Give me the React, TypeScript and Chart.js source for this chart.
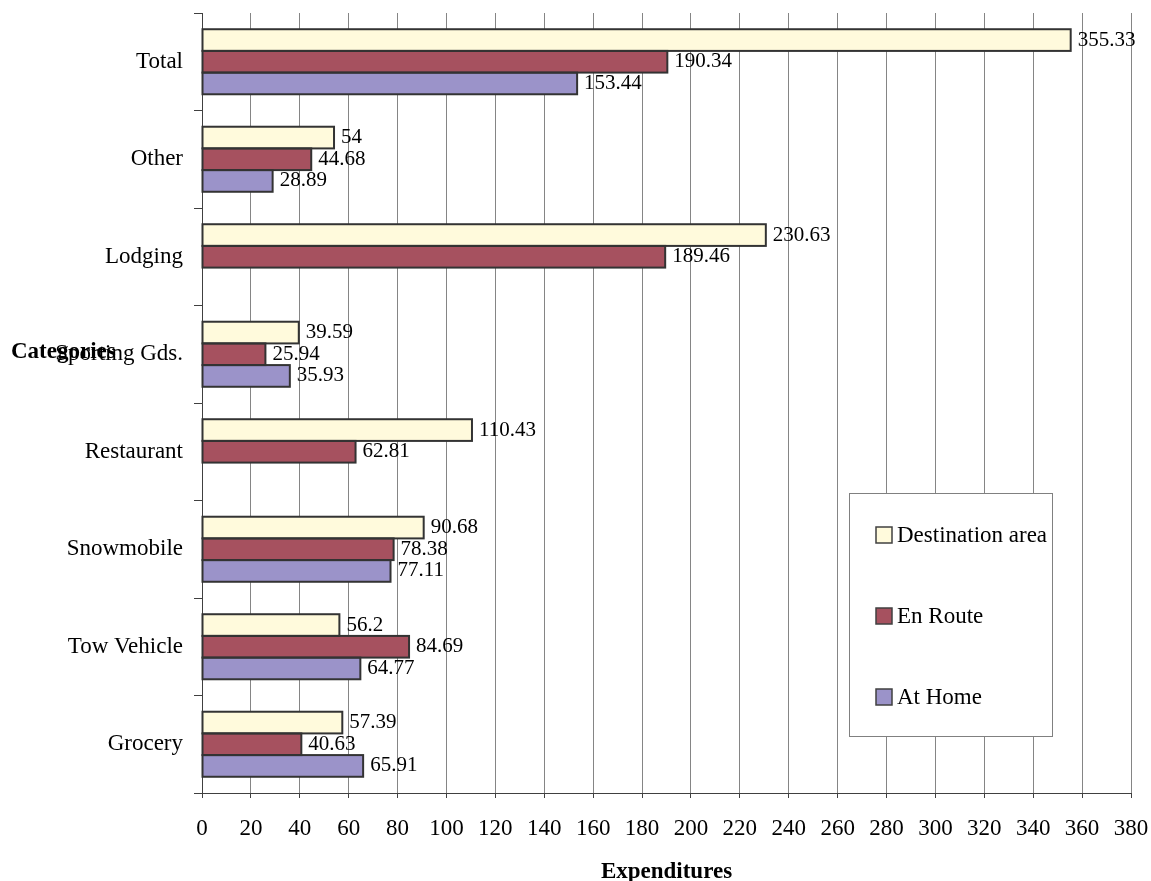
import React, { useEffect, useRef } from 'react';
import { Chart, registerables } from 'chart.js';

Chart.register(...registerables);

// Spending categories, listed top to bottom
const categories = ['Total', 'Other', 'Lodging', 'Sporting Gds.', 'Restaurant', 'Snowmobile', 'Tow Vehicle', 'Grocery'];

// Expenditures per series (null = no value reported)
const destinationArea = [355.33, 54, 230.63, 39.59, 110.43, 90.68, 56.2, 57.39];
const enRoute = [190.34, 44.68, 189.46, 25.94, 62.81, 78.38, 84.69, 40.63];
const atHome: (number | null)[] = [153.44, 28.89, null, 35.93, null, 77.11, 64.77, 65.91];

const seriesNames = ['Destination area', 'En Route', 'At Home'];
const seriesColors = ['#FFFADC', '#A6515F', '#9B93C9'];

// Value axis range
const xMin = 0;
const xMax = 380;
const xStep = 20;

const FONT = "'Liberation Serif', 'Times New Roman', serif";

// Outlines every bar with a 2px line centred on its edges (neighbours share one line),
// then writes each bar's value just past its end
const barOutlinesAndValues = {
  id: 'barOutlinesAndValues',
  afterDatasetsDraw(chart: any) {
    const ctx = chart.ctx;
    ctx.save();
    ctx.strokeStyle = '#333333';
    ctx.lineWidth = 2;
    chart.data.datasets.forEach((ds: any, di: number) => {
      const meta = chart.getDatasetMeta(di);
      meta.data.forEach((bar: any, i: number) => {
        const v = ds.data[i];
        if (v === null || v === undefined) return;
        const { x, y, base, height } = bar.getProps(['x', 'y', 'base', 'height'], true);
        ctx.strokeRect(base, y - height / 2, x - base, height);
      });
    });

    ctx.font = `21px ${FONT}`;
    ctx.fillStyle = '#000';
    ctx.textAlign = 'left';
    ctx.textBaseline = 'middle';
    chart.data.datasets.forEach((ds: any, di: number) => {
      const meta = chart.getDatasetMeta(di);
      meta.data.forEach((bar: any, i: number) => {
        const v = ds.data[i];
        if (v === null || v === undefined) return;
        ctx.fillText(String(v), bar.x + 7, bar.y);
      });
    });
    ctx.restore();
  },
};

// Boxed legend in the lower right and horizontal axis titles
const decorations = {
  id: 'decorations',
  afterDraw(chart: any) {
    const ctx = chart.ctx;
    ctx.save();

    // legend box
    const bx = 849.5, by = 493.5, bw = 203, bh = 243;
    ctx.fillStyle = '#fff';
    ctx.fillRect(bx, by, bw, bh);
    ctx.strokeStyle = '#808080';
    ctx.lineWidth = 1;
    ctx.strokeRect(bx, by, bw, bh);

    ctx.save();
    ctx.beginPath();
    ctx.rect(bx, by, bw + 1, bh);
    ctx.clip();
    ctx.font = `23px ${FONT}`;
    ctx.textAlign = 'left';
    ctx.textBaseline = 'middle';
    const rowY = [535, 616, 697];
    seriesNames.forEach((name, i) => {
      const y = rowY[i];
      ctx.fillStyle = seriesColors[i];
      ctx.fillRect(876, y - 8, 16, 16);
      ctx.strokeStyle = '#404040';
      ctx.lineWidth = 1.5;
      ctx.strokeRect(876, y - 8, 16, 16);
      ctx.fillStyle = '#000';
      ctx.fillText(name, 897, y + 1);
    });
    ctx.restore();

    // axis titles
    ctx.fillStyle = '#000';
    ctx.font = `bold 23px ${FONT}`;
    ctx.textBaseline = 'alphabetic';
    ctx.textAlign = 'center';
    const area = chart.chartArea;
    ctx.fillText('Expenditures', (area.left + area.right) / 2, 878);
    ctx.textAlign = 'left';
    ctx.fillText('Categories', 11, 358);

    ctx.restore();
  },
};

export default function App() {
  const canvasRef = useRef<HTMLCanvasElement | null>(null);

  useEffect(() => {
    if (!canvasRef.current) return;
    Chart.defaults.font.family = FONT;
    const chart = new Chart(canvasRef.current, {
      type: 'bar',
      data: {
        labels: categories,
        datasets: [
          { label: seriesNames[0], data: destinationArea, backgroundColor: seriesColors[0] },
          { label: seriesNames[1], data: enRoute, backgroundColor: seriesColors[1] },
          { label: seriesNames[2], data: atHome, backgroundColor: seriesColors[2] },
        ].map((d) => ({
          ...d,
          borderWidth: 0,
          categoryPercentage: 0.667,
          barPercentage: 1,
        })),
      },
      options: {
        indexAxis: 'y',
        responsive: false,
        animation: false,
        devicePixelRatio: 1,
        layout: { padding: { top: 13, right: 20, left: 0, bottom: 0 } },
        plugins: {
          legend: { display: false },
          tooltip: { enabled: false },
          title: { display: false },
        },
        scales: {
          x: {
            type: 'linear',
            min: xMin,
            max: xMax,
            ticks: {
              stepSize: xStep,
              color: '#000',
              font: { size: 23, family: FONT },
              padding: 17,
              maxRotation: 0,
              autoSkip: false,
            },
            grid: { color: '#858585', tickColor: '#404040', tickLength: 5 },
            border: { color: '#404040' },
            afterFit(scale: any) {
              scale.height = 88;
              scale.paddingLeft = 0;
              scale.paddingRight = 0;
            },
          },
          y: {
            type: 'category',
            ticks: {
              color: '#000',
              font: { size: 23, family: FONT },
              padding: 11,
              autoSkip: false,
            },
            grid: { offset: true, drawOnChartArea: false, tickLength: 8, color: '#404040' },
            border: { color: '#404040' },
            afterFit(scale: any) {
              scale.width = 202;
              scale.paddingTop = 0;
              scale.paddingBottom = 0;
            },
          },
        },
      },
      plugins: [barOutlinesAndValues, decorations],
    } as any);
    return () => chart.destroy();
  }, []);

  return (
    <div style={{ position: 'absolute', left: 0, top: 0, width: 1151, height: 881, background: '#fff' }}>
      <canvas ref={canvasRef} width={1151} height={881} style={{ display: 'block' }} />
    </div>
  );
}
